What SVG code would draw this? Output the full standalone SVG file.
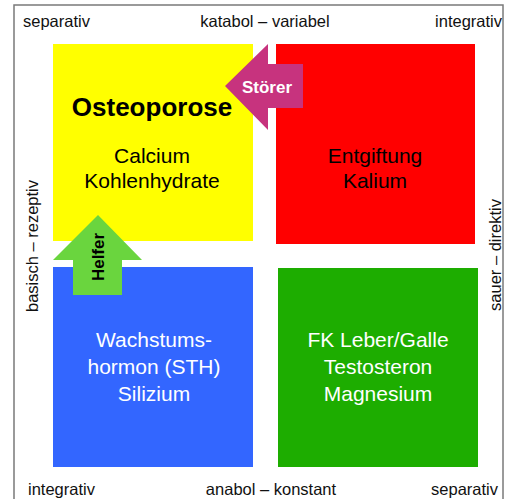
<svg xmlns="http://www.w3.org/2000/svg" width="505" height="499" viewBox="0 0 505 499">
<style>
text{font-family:"Liberation Sans",Arial,Helvetica,sans-serif}
.lbl{font-size:16.5px;fill:#111}
.box{font-size:21px;text-anchor:middle}
.dark{fill:#000}
.light{fill:#fff}
.arr{font-size:17px;font-weight:bold;text-anchor:middle}
</style>
<rect width="505" height="499" fill="#fff"/>
<rect x="14" y="5" width="489" height="510" fill="none" stroke="#7a7a7a" stroke-width="1.5"/>
<g id="axis-labels">
<text class="lbl" x="23" y="27">separativ</text>
<text class="lbl" x="265" y="27" text-anchor="middle">katabol – variabel</text>
<text class="lbl" x="502" y="27" text-anchor="end">integrativ</text>
<text class="lbl" x="28" y="495">integrativ</text>
<text class="lbl" x="271" y="495" text-anchor="middle">anabol – konstant</text>
<text class="lbl" x="498" y="495" text-anchor="end">separativ</text>
<text class="lbl" transform="translate(38,246) rotate(-90)" text-anchor="middle">basisch – rezeptiv</text>
<text class="lbl" transform="translate(501,255) rotate(-90)" text-anchor="middle">sauer – direktiv</text>
</g>
<g id="node-yellow">
<rect x="53" y="44" width="200" height="197" fill="#ffff00"/>
<text x="152" y="116" font-size="26" font-weight="bold" text-anchor="middle" fill="#000">Osteoporose</text>
<text class="box dark" x="152" y="163">Calcium</text>
<text class="box dark" x="152" y="188">Kohlenhydrate</text>
</g>
<g id="node-red">
<rect x="276" y="44" width="199" height="200" fill="#ff0000"/>
<text class="box dark" x="375" y="163">Entgiftung</text>
<text class="box dark" x="375" y="188">Kalium</text>
</g>
<g id="node-blue">
<rect x="53" y="267" width="200" height="200" fill="#3366ff"/>
<text class="box light" x="154" y="347">Wachstums-</text>
<text class="box light" x="154" y="374">hormon (STH)</text>
<text class="box light" x="154" y="401">Silizium</text>
</g>
<g id="node-green">
<rect x="278" y="268" width="200" height="199" fill="#1dad00"/>
<text class="box light" x="378" y="347">FK Leber/Galle</text>
<text class="box light" x="378" y="374">Testosteron</text>
<text class="box light" x="378" y="401">Magnesium</text>
</g>
<g id="connectors">
<g id="arrow-stoerer">
<polygon points="225,86 268,44 268,64 303,64 303,108 268,108 268,130" fill="#c7337e"/>
<text class="arr light" x="267" y="93">Störer</text>
</g>
<g id="arrow-helfer">
<polygon points="98,215 142,260 122,260 122,295 73,295 73,260 53,260" fill="#6ad53e"/>
<text class="arr dark" transform="translate(104,257) rotate(-90)">Helfer</text>
</g>
</g>
</svg>
